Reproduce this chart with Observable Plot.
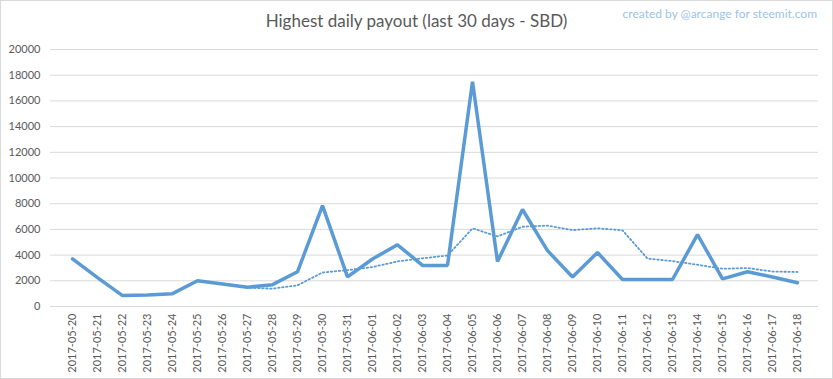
<!DOCTYPE html>
<html>
<head>
<meta charset="utf-8">
<script src="https://cdn.jsdelivr.net/npm/d3@7"></script>
<script src="https://cdn.jsdelivr.net/npm/@observablehq/plot@0.6"></script>
<style>
  html, body { margin: 0; padding: 0; background: #fff; }
  #chart { position: relative; width: 833px; height: 379px; outline: 1px solid #d9d9d9; outline-offset: -1px; font-family: Lato, "Open Sans", sans-serif; }
  #header { position: relative; width: 833px; height: 40px; }
  #title { position: absolute; left: 0; width: 833px; top: 10px; text-align: center; font-size: 17px; color: #595959; }
  #credit { position: absolute; right: 16px; top: 6px; font-size: 12px; color: #9dc3e6; }
  svg { display: block; }
</style>
</head>
<body>
<div id="chart">
  <div id="header">
    <div id="title">Highest daily payout (last 30 days - SBD)</div>
    <div id="credit">created by @arcange for steemit.com</div>
  </div>
</div>
<script>
const dates = ["2017-05-20","2017-05-21","2017-05-22","2017-05-23","2017-05-24","2017-05-25","2017-05-26","2017-05-27","2017-05-28","2017-05-29","2017-05-30","2017-05-31","2017-06-01","2017-06-02","2017-06-03","2017-06-04","2017-06-05","2017-06-06","2017-06-07","2017-06-08","2017-06-09","2017-06-10","2017-06-11","2017-06-12","2017-06-13","2017-06-14","2017-06-15","2017-06-16","2017-06-17","2017-06-18"];
const payouts = [3700,2250,850,900,1000,2000,1750,1500,1700,2700,7850,2300,3700,4800,3200,3200,17500,3500,7550,4350,2300,4200,2100,2100,2100,5600,2150,2700,2300,1850];
const yTicks = [0,2000,4000,6000,8000,10000,12000,14000,16000,18000,20000];
const trendPeriod = 7;

const data = dates.map((d, i) => ({date: d, value: payouts[i]}));

const chart = Plot.plot({
  width: 833,
  height: 339,
  marginTop: 9,
  marginLeft: 50,
  marginRight: 15,
  marginBottom: 73,
  style: {fontFamily: "Lato, 'Open Sans', sans-serif", fontSize: "11px", color: "#595959", background: "transparent"},
  x: {type: "point", domain: dates, padding: 0.5},
  y: {domain: [0, 20000]},
  marks: [
    Plot.gridY(yTicks, {stroke: "#d9d9d9", strokeOpacity: 1, strokeWidth: 1}),
    Plot.axisY(yTicks, {tickSize: 0, tickPadding: 10, tickFormat: d => String(d), label: null, fill: "#595959"}),
    Plot.axisX({tickSize: 0, tickPadding: 7, tickRotate: -90, label: null, fill: "#595959"}),
    Plot.line(data, Plot.windowY({k: trendPeriod, anchor: "end", strict: true}, {x: "date", y: "value", stroke: "#5b9bd5", strokeWidth: 1.8, strokeDasharray: "1.5,2.5"})),
    Plot.line(data, {x: "date", y: "value", stroke: "#5b9bd5", strokeWidth: 3.5, strokeLinejoin: "miter"})
  ]
});
document.getElementById("chart").appendChild(chart);
</script>
</body>
</html>
